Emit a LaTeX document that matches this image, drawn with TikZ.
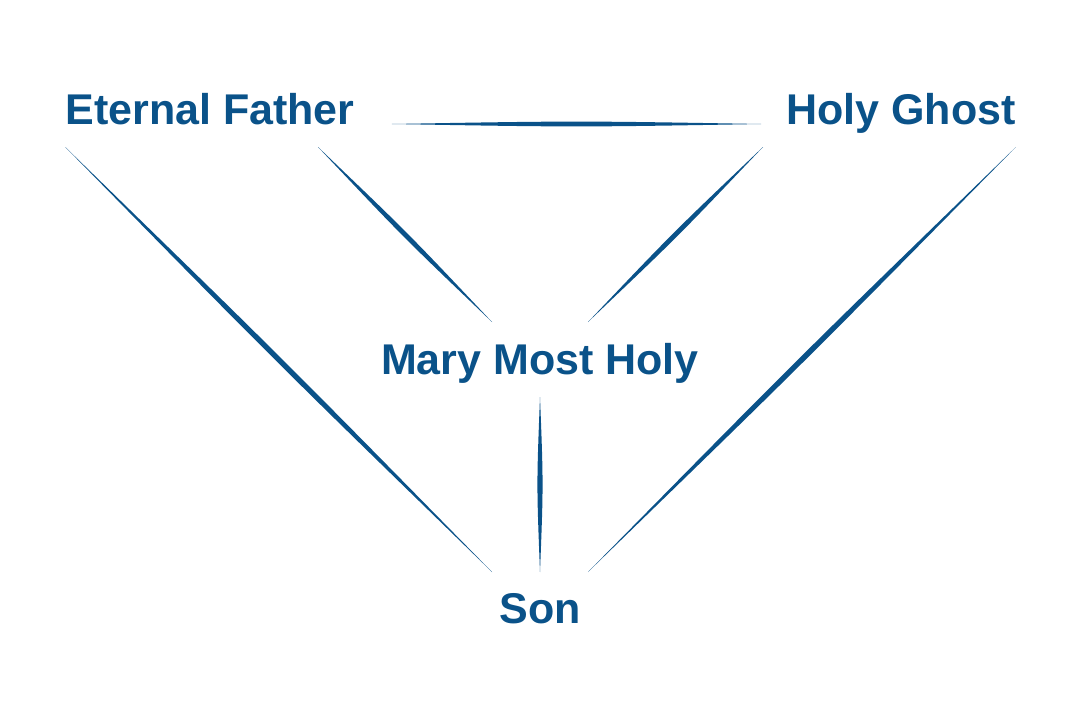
\documentclass[tikz,border=0pt]{standalone}
\usepackage{fontspec}
\setmainfont{Liberation Sans}
\usetikzlibrary{calc}
\definecolor{holyblue}{HTML}{0A5289}
% tapered line: from, to, bulge
\newcommand\lensline[3]{%
  \path (#1) coordinate (la) (#2) coordinate (lb);
  \path (la) -- (lb) coordinate[pos=.5] (lm);
  \fill[holyblue] (la) .. controls ($(lm)!#3!90:(lb)$) .. (lb)
                      .. controls ($(lm)!#3!-90:(lb)$) .. (la) -- cycle;}
\tikzset{
  person/.style = {inner sep=0, anchor=base, text=holyblue,
                   font=\fontsize{43}{48}\selectfont\bfseries}
}
\begin{document}
\begin{tikzpicture}[x=1pt, y=-1pt]
  \useasboundingbox[fill=white] (0,0) rectangle (1080,720);
  \node[person] (ef)   at (210,124) {Eternal Father};
  \node[person] (hg)   at (901,124) {Holy Ghost};
  \node[person] (mary) at (540,374) {Mary Most Holy};
  \node[person] (son)  at (540,623) {Son};
  % lines
  \lensline{$(ef.base east)+(37,0)$}{$(hg.base west)+(-25,0)$}{3.2pt}
  \lensline{$(ef.base)+(108,23)$}{$(mary.base)+(-48,-52)$}{3.2pt}
  \lensline{$(hg.base)+(-138,23)$}{$(mary.base)+(48,-52)$}{3.2pt}
  \lensline{$(ef.base west)+(0,23)$}{$(son.base)+(-48,-51)$}{3.6pt}
  \lensline{$(hg.base east)+(0,23)$}{$(son.base)+(48,-51)$}{3.6pt}
  \lensline{$(mary.base)+(0,23)$}{$(son.base)+(0,-51)$}{3.4pt}
\end{tikzpicture}
\end{document}
